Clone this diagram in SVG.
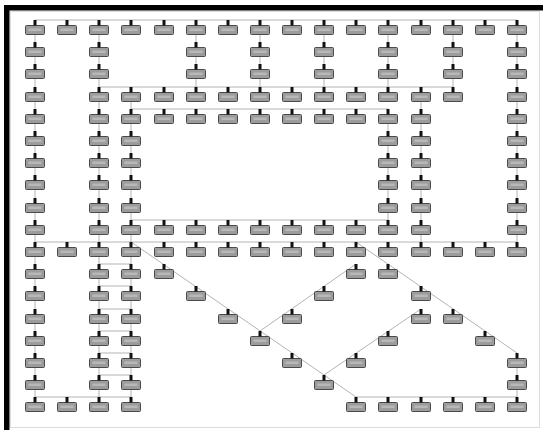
<svg xmlns="http://www.w3.org/2000/svg" xmlns:xlink="http://www.w3.org/1999/xlink" width="543" height="430" viewBox="0 0 543 430">
<style>
.c{stroke:#b4b4b4;stroke-width:1;fill:none}
.b{fill:#9c9c9c;stroke:#4a4a4a;stroke-width:1}
.s{fill:#111}
.i{fill:#b8b8b8}
</style>
<defs>
<g id="pc">
<rect class="b" x="-9.5" y="-4.5" width="19" height="9" rx="1"/>
<rect class="i" x="-6.5" y="-1.5" width="13" height="2.5"/>
<rect class="s" x="-1.5" y="-10" width="3" height="5.5"/>
</g>
</defs>
<rect x="0" y="0" width="543" height="430" fill="#fff"/>
<g id="frame">
<rect x="4" y="5" width="539" height="5.5" fill="#000"/>
<rect x="4" y="5" width="5.5" height="425" fill="#000"/>
<path d="M10.5 11.5H539.5V427.5H10.5Z" fill="none" stroke="#dcdcdc" stroke-width="1"/>
</g>
<g id="connectors" class="c">
<path d="M35 20H517"/>
<path d="M99 87H453"/>
<path d="M131 109H388"/>
<path d="M131 220H388"/>
<path d="M35 242H517"/>
<path d="M99 264H131M99 286H131M99 309H131M99 331H131M99 353H131M99 375H131"/>
<path d="M35 397H131M356 397H517"/>
<path d="M35 20V397M99 20V397M131 87V397"/>
<path d="M196 20V87M260 20V87M324 20V87M388 20V87M453 20V87"/>
<path d="M388 109V220M421 87V242M517 20V242M517 353V397"/>
<path d="M131 242L356 397"/>
<path d="M356 242L517 353"/>
<path d="M260 331L356 264"/>
<path d="M324 375L421 309"/>
</g>
<g id="n0-0"><use href="#pc" x="35" y="30"/></g>
<g id="n0-1"><use href="#pc" x="67" y="30"/></g>
<g id="n0-2"><use href="#pc" x="99" y="30"/></g>
<g id="n0-3"><use href="#pc" x="131" y="30"/></g>
<g id="n0-4"><use href="#pc" x="164" y="30"/></g>
<g id="n0-5"><use href="#pc" x="196" y="30"/></g>
<g id="n0-6"><use href="#pc" x="228" y="30"/></g>
<g id="n0-7"><use href="#pc" x="260" y="30"/></g>
<g id="n0-8"><use href="#pc" x="292" y="30"/></g>
<g id="n0-9"><use href="#pc" x="324" y="30"/></g>
<g id="n0-10"><use href="#pc" x="356" y="30"/></g>
<g id="n0-11"><use href="#pc" x="388" y="30"/></g>
<g id="n0-12"><use href="#pc" x="421" y="30"/></g>
<g id="n0-13"><use href="#pc" x="453" y="30"/></g>
<g id="n0-14"><use href="#pc" x="485" y="30"/></g>
<g id="n0-15"><use href="#pc" x="517" y="30"/></g>
<g id="n1-0"><use href="#pc" x="35" y="52"/></g>
<g id="n1-2"><use href="#pc" x="99" y="52"/></g>
<g id="n1-5"><use href="#pc" x="196" y="52"/></g>
<g id="n1-7"><use href="#pc" x="260" y="52"/></g>
<g id="n1-9"><use href="#pc" x="324" y="52"/></g>
<g id="n1-11"><use href="#pc" x="388" y="52"/></g>
<g id="n1-13"><use href="#pc" x="453" y="52"/></g>
<g id="n1-15"><use href="#pc" x="517" y="52"/></g>
<g id="n2-0"><use href="#pc" x="35" y="74"/></g>
<g id="n2-2"><use href="#pc" x="99" y="74"/></g>
<g id="n2-5"><use href="#pc" x="196" y="74"/></g>
<g id="n2-7"><use href="#pc" x="260" y="74"/></g>
<g id="n2-9"><use href="#pc" x="324" y="74"/></g>
<g id="n2-11"><use href="#pc" x="388" y="74"/></g>
<g id="n2-13"><use href="#pc" x="453" y="74"/></g>
<g id="n2-15"><use href="#pc" x="517" y="74"/></g>
<g id="n3-0"><use href="#pc" x="35" y="97"/></g>
<g id="n3-2"><use href="#pc" x="99" y="97"/></g>
<g id="n3-3"><use href="#pc" x="131" y="97"/></g>
<g id="n3-4"><use href="#pc" x="164" y="97"/></g>
<g id="n3-5"><use href="#pc" x="196" y="97"/></g>
<g id="n3-6"><use href="#pc" x="228" y="97"/></g>
<g id="n3-7"><use href="#pc" x="260" y="97"/></g>
<g id="n3-8"><use href="#pc" x="292" y="97"/></g>
<g id="n3-9"><use href="#pc" x="324" y="97"/></g>
<g id="n3-10"><use href="#pc" x="356" y="97"/></g>
<g id="n3-11"><use href="#pc" x="388" y="97"/></g>
<g id="n3-12"><use href="#pc" x="421" y="97"/></g>
<g id="n3-13"><use href="#pc" x="453" y="97"/></g>
<g id="n3-15"><use href="#pc" x="517" y="97"/></g>
<g id="n4-0"><use href="#pc" x="35" y="119"/></g>
<g id="n4-2"><use href="#pc" x="99" y="119"/></g>
<g id="n4-3"><use href="#pc" x="131" y="119"/></g>
<g id="n4-4"><use href="#pc" x="164" y="119"/></g>
<g id="n4-5"><use href="#pc" x="196" y="119"/></g>
<g id="n4-6"><use href="#pc" x="228" y="119"/></g>
<g id="n4-7"><use href="#pc" x="260" y="119"/></g>
<g id="n4-8"><use href="#pc" x="292" y="119"/></g>
<g id="n4-9"><use href="#pc" x="324" y="119"/></g>
<g id="n4-10"><use href="#pc" x="356" y="119"/></g>
<g id="n4-11"><use href="#pc" x="388" y="119"/></g>
<g id="n4-12"><use href="#pc" x="421" y="119"/></g>
<g id="n4-15"><use href="#pc" x="517" y="119"/></g>
<g id="n5-0"><use href="#pc" x="35" y="141"/></g>
<g id="n5-2"><use href="#pc" x="99" y="141"/></g>
<g id="n5-3"><use href="#pc" x="131" y="141"/></g>
<g id="n5-11"><use href="#pc" x="388" y="141"/></g>
<g id="n5-12"><use href="#pc" x="421" y="141"/></g>
<g id="n5-15"><use href="#pc" x="517" y="141"/></g>
<g id="n6-0"><use href="#pc" x="35" y="163"/></g>
<g id="n6-2"><use href="#pc" x="99" y="163"/></g>
<g id="n6-3"><use href="#pc" x="131" y="163"/></g>
<g id="n6-11"><use href="#pc" x="388" y="163"/></g>
<g id="n6-12"><use href="#pc" x="421" y="163"/></g>
<g id="n6-15"><use href="#pc" x="517" y="163"/></g>
<g id="n7-0"><use href="#pc" x="35" y="185"/></g>
<g id="n7-2"><use href="#pc" x="99" y="185"/></g>
<g id="n7-3"><use href="#pc" x="131" y="185"/></g>
<g id="n7-11"><use href="#pc" x="388" y="185"/></g>
<g id="n7-12"><use href="#pc" x="421" y="185"/></g>
<g id="n7-15"><use href="#pc" x="517" y="185"/></g>
<g id="n8-0"><use href="#pc" x="35" y="208"/></g>
<g id="n8-2"><use href="#pc" x="99" y="208"/></g>
<g id="n8-3"><use href="#pc" x="131" y="208"/></g>
<g id="n8-11"><use href="#pc" x="388" y="208"/></g>
<g id="n8-12"><use href="#pc" x="421" y="208"/></g>
<g id="n8-15"><use href="#pc" x="517" y="208"/></g>
<g id="n9-0"><use href="#pc" x="35" y="230"/></g>
<g id="n9-2"><use href="#pc" x="99" y="230"/></g>
<g id="n9-3"><use href="#pc" x="131" y="230"/></g>
<g id="n9-4"><use href="#pc" x="164" y="230"/></g>
<g id="n9-5"><use href="#pc" x="196" y="230"/></g>
<g id="n9-6"><use href="#pc" x="228" y="230"/></g>
<g id="n9-7"><use href="#pc" x="260" y="230"/></g>
<g id="n9-8"><use href="#pc" x="292" y="230"/></g>
<g id="n9-9"><use href="#pc" x="324" y="230"/></g>
<g id="n9-10"><use href="#pc" x="356" y="230"/></g>
<g id="n9-11"><use href="#pc" x="388" y="230"/></g>
<g id="n9-12"><use href="#pc" x="421" y="230"/></g>
<g id="n9-15"><use href="#pc" x="517" y="230"/></g>
<g id="n10-0"><use href="#pc" x="35" y="252"/></g>
<g id="n10-1"><use href="#pc" x="67" y="252"/></g>
<g id="n10-2"><use href="#pc" x="99" y="252"/></g>
<g id="n10-3"><use href="#pc" x="131" y="252"/></g>
<g id="n10-4"><use href="#pc" x="164" y="252"/></g>
<g id="n10-5"><use href="#pc" x="196" y="252"/></g>
<g id="n10-6"><use href="#pc" x="228" y="252"/></g>
<g id="n10-7"><use href="#pc" x="260" y="252"/></g>
<g id="n10-8"><use href="#pc" x="292" y="252"/></g>
<g id="n10-9"><use href="#pc" x="324" y="252"/></g>
<g id="n10-10"><use href="#pc" x="356" y="252"/></g>
<g id="n10-11"><use href="#pc" x="388" y="252"/></g>
<g id="n10-12"><use href="#pc" x="421" y="252"/></g>
<g id="n10-13"><use href="#pc" x="453" y="252"/></g>
<g id="n10-14"><use href="#pc" x="485" y="252"/></g>
<g id="n10-15"><use href="#pc" x="517" y="252"/></g>
<g id="n11-0"><use href="#pc" x="35" y="274"/></g>
<g id="n11-2"><use href="#pc" x="99" y="274"/></g>
<g id="n11-3"><use href="#pc" x="131" y="274"/></g>
<g id="n11-4"><use href="#pc" x="164" y="274"/></g>
<g id="n11-10"><use href="#pc" x="356" y="274"/></g>
<g id="n11-11"><use href="#pc" x="388" y="274"/></g>
<g id="n12-0"><use href="#pc" x="35" y="296"/></g>
<g id="n12-2"><use href="#pc" x="99" y="296"/></g>
<g id="n12-3"><use href="#pc" x="131" y="296"/></g>
<g id="n12-5"><use href="#pc" x="196" y="296"/></g>
<g id="n12-9"><use href="#pc" x="324" y="296"/></g>
<g id="n12-12"><use href="#pc" x="421" y="296"/></g>
<g id="n13-0"><use href="#pc" x="35" y="319"/></g>
<g id="n13-2"><use href="#pc" x="99" y="319"/></g>
<g id="n13-3"><use href="#pc" x="131" y="319"/></g>
<g id="n13-6"><use href="#pc" x="228" y="319"/></g>
<g id="n13-8"><use href="#pc" x="292" y="319"/></g>
<g id="n13-12"><use href="#pc" x="421" y="319"/></g>
<g id="n13-13"><use href="#pc" x="453" y="319"/></g>
<g id="n14-0"><use href="#pc" x="35" y="341"/></g>
<g id="n14-2"><use href="#pc" x="99" y="341"/></g>
<g id="n14-3"><use href="#pc" x="131" y="341"/></g>
<g id="n14-7"><use href="#pc" x="260" y="341"/></g>
<g id="n14-11"><use href="#pc" x="388" y="341"/></g>
<g id="n14-14"><use href="#pc" x="485" y="341"/></g>
<g id="n15-0"><use href="#pc" x="35" y="363"/></g>
<g id="n15-2"><use href="#pc" x="99" y="363"/></g>
<g id="n15-3"><use href="#pc" x="131" y="363"/></g>
<g id="n15-8"><use href="#pc" x="292" y="363"/></g>
<g id="n15-10"><use href="#pc" x="356" y="363"/></g>
<g id="n15-15"><use href="#pc" x="517" y="363"/></g>
<g id="n16-0"><use href="#pc" x="35" y="385"/></g>
<g id="n16-2"><use href="#pc" x="99" y="385"/></g>
<g id="n16-3"><use href="#pc" x="131" y="385"/></g>
<g id="n16-9"><use href="#pc" x="324" y="385"/></g>
<g id="n16-15"><use href="#pc" x="517" y="385"/></g>
<g id="n17-0"><use href="#pc" x="35" y="407"/></g>
<g id="n17-1"><use href="#pc" x="67" y="407"/></g>
<g id="n17-2"><use href="#pc" x="99" y="407"/></g>
<g id="n17-3"><use href="#pc" x="131" y="407"/></g>
<g id="n17-10"><use href="#pc" x="356" y="407"/></g>
<g id="n17-11"><use href="#pc" x="388" y="407"/></g>
<g id="n17-12"><use href="#pc" x="421" y="407"/></g>
<g id="n17-13"><use href="#pc" x="453" y="407"/></g>
<g id="n17-14"><use href="#pc" x="485" y="407"/></g>
<g id="n17-15"><use href="#pc" x="517" y="407"/></g>
</svg>
